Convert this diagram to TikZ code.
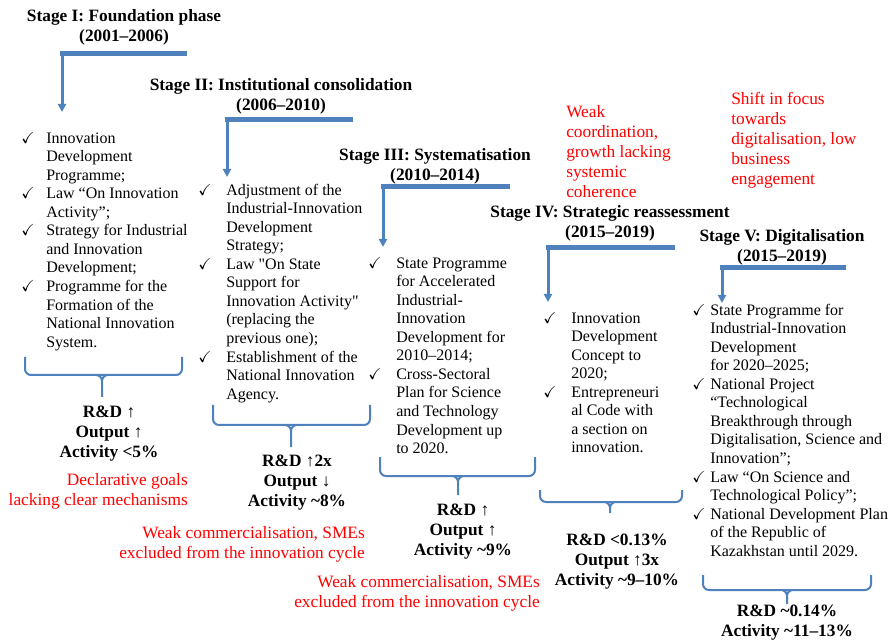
\documentclass[tikz,border=0pt]{standalone}
\usepackage{amssymb}
\usepackage{fontspec}
\setmainfont{Liberation Serif}
\usetikzlibrary{arrows.meta}
\definecolor{stageblue}{RGB}{79,129,189}
\definecolor{notered}{RGB}{255,0,0}
\tikzstyle{stagetitle}=[font=\fontsize{13pt}{15pt}\selectfont\bfseries,align=center,inner sep=0pt]
\tikzstyle{items}=[font=\fontsize{12pt}{13.9pt}\selectfont,anchor=north west,inner sep=0pt]
\tikzstyle{result}=[font=\fontsize{13pt}{15pt}\selectfont\bfseries,align=center,inner sep=0pt]
\tikzstyle{note}=[font=\fontsize{13pt}{15pt}\selectfont,text=notered,inner sep=0pt]
\tikzstyle{bar}=[draw=stageblue,line width=3.75pt]
\tikzstyle{drop}=[draw=stageblue,line width=2.25pt,-{Triangle[width=6pt,length=6pt]}]
\tikzstyle{brace}=[draw=stageblue,line width=1.5pt,rounded corners=4.5pt]
\newcommand\chk[1]{\makebox[#1][l]{$\checkmark$}}

\begin{document}
\begin{tikzpicture}[x=0.75pt,y=-0.75pt]
  \useasboundingbox (0,0) rectangle (896,641);
  % stage titles
  \node[stagetitle] (stage1) at (124,27) {Stage I: Foundation phase\\(2001–2006)};
  \node[stagetitle] (stage2) at (281,96) {Stage II: Institutional consolidation\\(2006–2010)};
  \node[stagetitle] (stage3) at (435,166) {Stage III: Systematisation\\(2010–2014)};
  \node[stagetitle] (stage4) at (610,223) {Stage IV: Strategic reassessment\\(2015–2019)};
  \node[stagetitle] (stage5) at (782,247) {Stage V: Digitalisation\\(2015–2019)};
  % elbow arrows
  \coordinate (elbow1) at (187,54);
  \coordinate (tip1) at (62,112);
  \coordinate (corner1) at (elbow1 -| tip1);
  \draw[bar] (elbow1) -- ([xshift=-1.5pt]corner1);
  \draw[drop] (corner1) -- (tip1);
  \coordinate (elbow2) at (353,120);
  \coordinate (tip2) at (227,177);
  \coordinate (corner2) at (elbow2 -| tip2);
  \draw[bar] (elbow2) -- ([xshift=-1.5pt]corner2);
  \draw[drop] (corner2) -- (tip2);
  \coordinate (elbow3) at (510,187);
  \coordinate (tip3) at (383,247);
  \coordinate (corner3) at (elbow3 -| tip3);
  \draw[bar] (elbow3) -- ([xshift=-1.5pt]corner3);
  \draw[drop] (corner3) -- (tip3);
  \coordinate (elbow4) at (675,248);
  \coordinate (tip4) at (548,302);
  \coordinate (corner4) at (elbow4 -| tip4);
  \draw[bar] (elbow4) -- ([xshift=-1.5pt]corner4);
  \draw[drop] (corner4) -- (tip4);
  \coordinate (elbow5) at (846,268);
  \coordinate (tip5) at (722,303);
  \coordinate (corner5) at (elbow5 -| tip5);
  \draw[bar] (elbow5) -- ([xshift=-1.5pt]corner5);
  \draw[drop] (corner5) -- (tip5);
  % measures
  \node[items] (items1) at (21,130) {\begin{tabular}{@{}l@{}l@{}}
    \chk{18.75pt} & Innovation\\
     & Development\\
     & Programme;\\
    \chk{18.75pt} & Law “On Innovation\\
     & Activity”;\\
    \chk{18.75pt} & Strategy for Industrial\\
     & and Innovation\\
     & Development;\\
    \chk{18.75pt} & Programme for the\\
     & Formation of the\\
     & National Innovation\\
     & System.
  \end{tabular}};
  \node[items] (items2) at (198,182) {\begin{tabular}{@{}l@{}l@{}}
    \chk{21pt} & Adjustment of the\\
     & Industrial-Innovation\\
     & Development\\
     & Strategy;\\
    \chk{21pt} & Law \textquotedbl On State\\
     & Support for\\
     & Innovation Activity\textquotedbl\\
     & (replacing the\\
     & previous one);\\
    \chk{21pt} & Establishment of the\\
     & National Innovation\\
     & Agency.
  \end{tabular}};
  \node[items] (items3) at (368,255) {\begin{tabular}{@{}l@{}l@{}}
    \chk{21pt} & State Programme\\
     & for Accelerated\\
     & Industrial-\\
     & Innovation\\
     & Development for\\
     & 2010–2014;\\
    \chk{21pt} & Cross-Sectoral\\
     & Plan for Science\\
     & and Technology\\
     & Development up\\
     & to 2020.
  \end{tabular}};
  \node[items] (items4) at (543,310) {\begin{tabular}{@{}l@{}l@{}}
    \chk{21pt} & Innovation\\
     & Development\\
     & Concept to\\
     & 2020;\\
    \chk{21pt} & Entrepreneuri\\
     & al Code with\\
     & a section on\\
     & innovation.
  \end{tabular}};
  \node[items] (items5) at (692,302) {\begin{tabular}{@{}l@{}l@{}}
    \chk{13.5pt} & State Programme for\\
     & Industrial-Innovation\\
     & Development\\
     & for 2020–2025;\\
    \chk{13.5pt} & National Project\\
     & “Technological\\
     & Breakthrough through\\
     & Digitalisation, Science and\\
     & Innovation”;\\
    \chk{13.5pt} & Law “On Science and\\
     & Technological Policy”;\\
    \chk{13.5pt} & National Development Plan\\
     & of the Republic of\\
     & Kazakhstan until 2029.
  \end{tabular}};
  % braces
  \draw[brace] (25,357) |- (182,375) -- (182,357) (94,375) -| (102,397) (110,375) -| (102,397);
  \draw[brace] (213,405) |- (370,425) -- (370,405) (283,425) -| (291,447) (299,425) -| (291,447);
  \draw[brace] (380,457) |- (535,476) -- (535,457) (450,476) -| (458,495) (466,476) -| (458,495);
  \draw[brace] (540,490) |- (682,502) -- (682,490) (602,502) -| (610,513) (618,502) -| (610,513);
  \draw[brace] (703,575) |- (871,590) -- (871,575) (779,590) -| (787,604) (795,590) -| (787,604);
  % results
  \node[result] (result1) at (109,434) {R\&D ↑\\Output ↑\\Activity <5\%};
  \node[result] (result2) at (297,483) {R\&D ↑2x\\Output ↓\\Activity \textasciitilde8\%};
  \node[result] (result3) at (463,532) {R\&D ↑\\Output ↑\\Activity \textasciitilde9\%};
  \node[result] (result4) at (617,562) {R\&D <0.13\%\\Output ↑3x\\Activity \textasciitilde9–10\%};
  \node[result] (result5) at (787,623) {R\&D \textasciitilde0.14\%\\Activity \textasciitilde11–13\%};
  % problems
  \node[note,anchor=east,align=right] (note1) at (188,491) {Declarative goals\\lacking clear mechanisms};
  \node[note,anchor=east,align=right] (note2) at (365,544) {Weak commercialisation, SMEs\\excluded from the innovation cycle};
  \node[note,anchor=east,align=right] (note3) at (540,593) {Weak commercialisation, SMEs\\excluded from the innovation cycle};
  \node[note,anchor=west,align=left] (note4) at (566,152) {Weak\\coordination,\\growth lacking\\systemic\\coherence};
  \node[note,anchor=west,align=left] (note5) at (731,140) {Shift in focus\\towards\\digitalisation, low\\business\\engagement};
\end{tikzpicture}
\end{document}
